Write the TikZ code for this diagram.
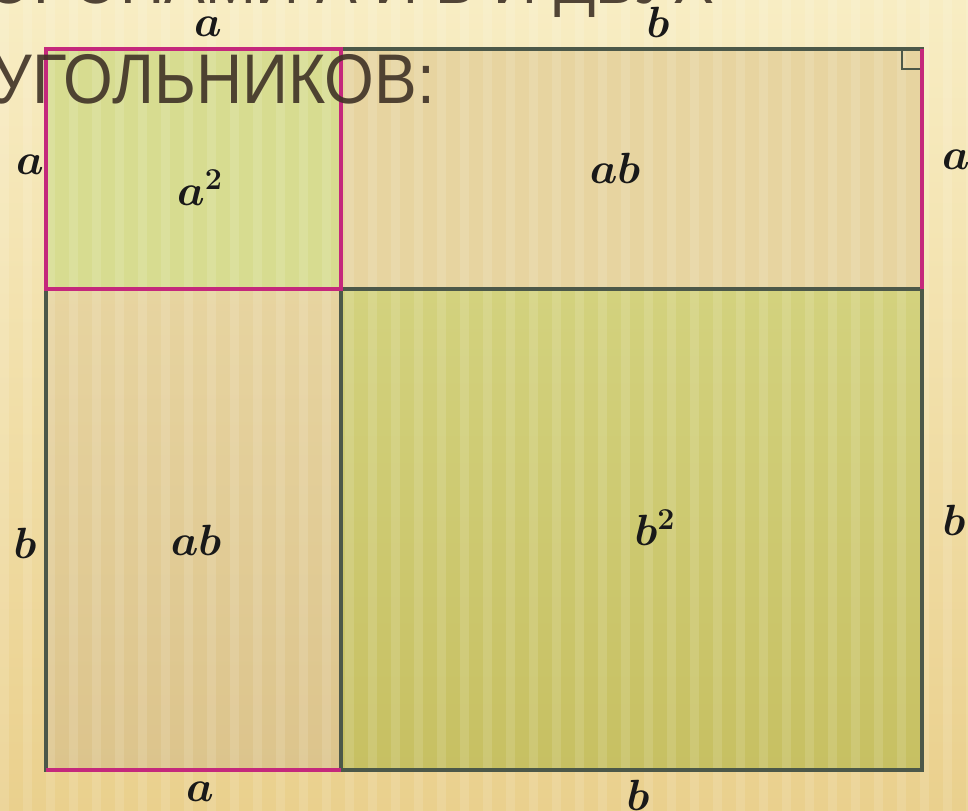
\documentclass[tikz,border=0pt]{standalone}
\usepackage{fontspec}
\usepackage{amsmath,bm}
\newfontfamily\slidefont{Liberation Sans}
\usetikzlibrary{positioning}
\definecolor{bgtop}{HTML}{F8EDC3}
\definecolor{bgbot}{HTML}{EAD08D}
\definecolor{sqafill}{HTML}{D7DC90}
\definecolor{sqbtop}{HTML}{D3D27E}
\definecolor{sqbbot}{HTML}{C7C062}
\definecolor{abtop}{HTML}{E7D4A0}
\definecolor{abbot}{HTML}{DCC48C}
\definecolor{edgedark}{HTML}{4C5849}
\definecolor{edgemag}{HTML}{C4287C}
\definecolor{slidetext}{HTML}{3F3226}
\tikzset{
  sidelbl/.style={inner sep=0pt, text=black!90, font=\fontsize{25}{30}\selectfont},
  arealbl/.style={sidelbl},
  slidetxt/.style={inner sep=0pt, text=slidetext, opacity=0.9,
    font=\slidefont\fontsize{40}{48}\selectfont}
}

\begin{document}
\begin{tikzpicture}[x=0.02cm, y=-0.02cm, line width=2.2pt]
    \useasboundingbox (0,0) rectangle (968,811);
    \clip (0,0) rectangle (968,811);
    % background with stripes
    \shade[top color=bgtop, bottom color=bgbot] (0,0) rectangle (968,811);
    % corners of the figure
    \coordinate (tl) at (46,49);
    \coordinate (br) at (922,770);
    \coordinate (mid) at (341,289);
    % the four parts
    \fill[sqafill] (tl) rectangle (mid);
    \fill[abtop] (341,49) rectangle (922,289);
    \shade[top color=abtop, bottom color=abbot] (46,289) rectangle (341,770);
    \shade[top color=sqbtop, bottom color=sqbbot] (mid) rectangle (br);
    \foreach \sx in {0,23,...,968}{
      \fill[white, opacity=0.12] (\sx,0) rectangle ++(9,811);}
    % edges
    \draw[edgedark] (tl) rectangle (br);
    \draw[edgedark] (341,49) -- (341,770) (46,289) -- (922,289);
    \draw[edgedark, line width=0.8pt] (902,49) -- (902,69) -- (922,69);
    \draw[edgemag] (tl) rectangle (mid);
    \draw[edgemag] (922,49) -- (922,289) (46,770) -- (341,770);
    % side labels
    \node[sidelbl] (atop) at (208,27) {$\bm{a}$};
    \node[sidelbl] (btop) at (658,22) {$\bm{b}$};
    \node[sidelbl] (aleft) at (30,165) {$\bm{a}$};
    \node[sidelbl] (aright) at (956,160) {$\bm{a}$};
    \node[sidelbl] (bleft) at (25,543) {$\bm{b}$};
    \node[sidelbl] (bright) at (954,520) {$\bm{b}$};
    \node[sidelbl] (abot) at (200,792) {$\bm{a}$};
    \node[sidelbl] (bbot) at (638,795) {$\bm{b}$};
    % area labels
    \node[arealbl] (asq) at (200,188) {$\bm{a^2}$};
    \node[arealbl] (abup) at (615,168) {$\bm{ab}$};
    \node[arealbl] (ablow) at (196,540) {$\bm{ab}$};
    \node[arealbl] (bsq) at (655,528) {$\bm{b^2}$};
    % slide text
    \node[slidetxt, anchor=base east] (lineone) at (716,4)
      {\scalebox{0.87}[1]{СО СТОРОНАМИ A И B И ДВУХ}};
    \node[slidetxt, anchor=base east] (linetwo) at (437,104)
      {\scalebox{0.91}[1]{ПРЯМОУГОЛЬНИКОВ:}};
  \end{tikzpicture}
\end{document}
